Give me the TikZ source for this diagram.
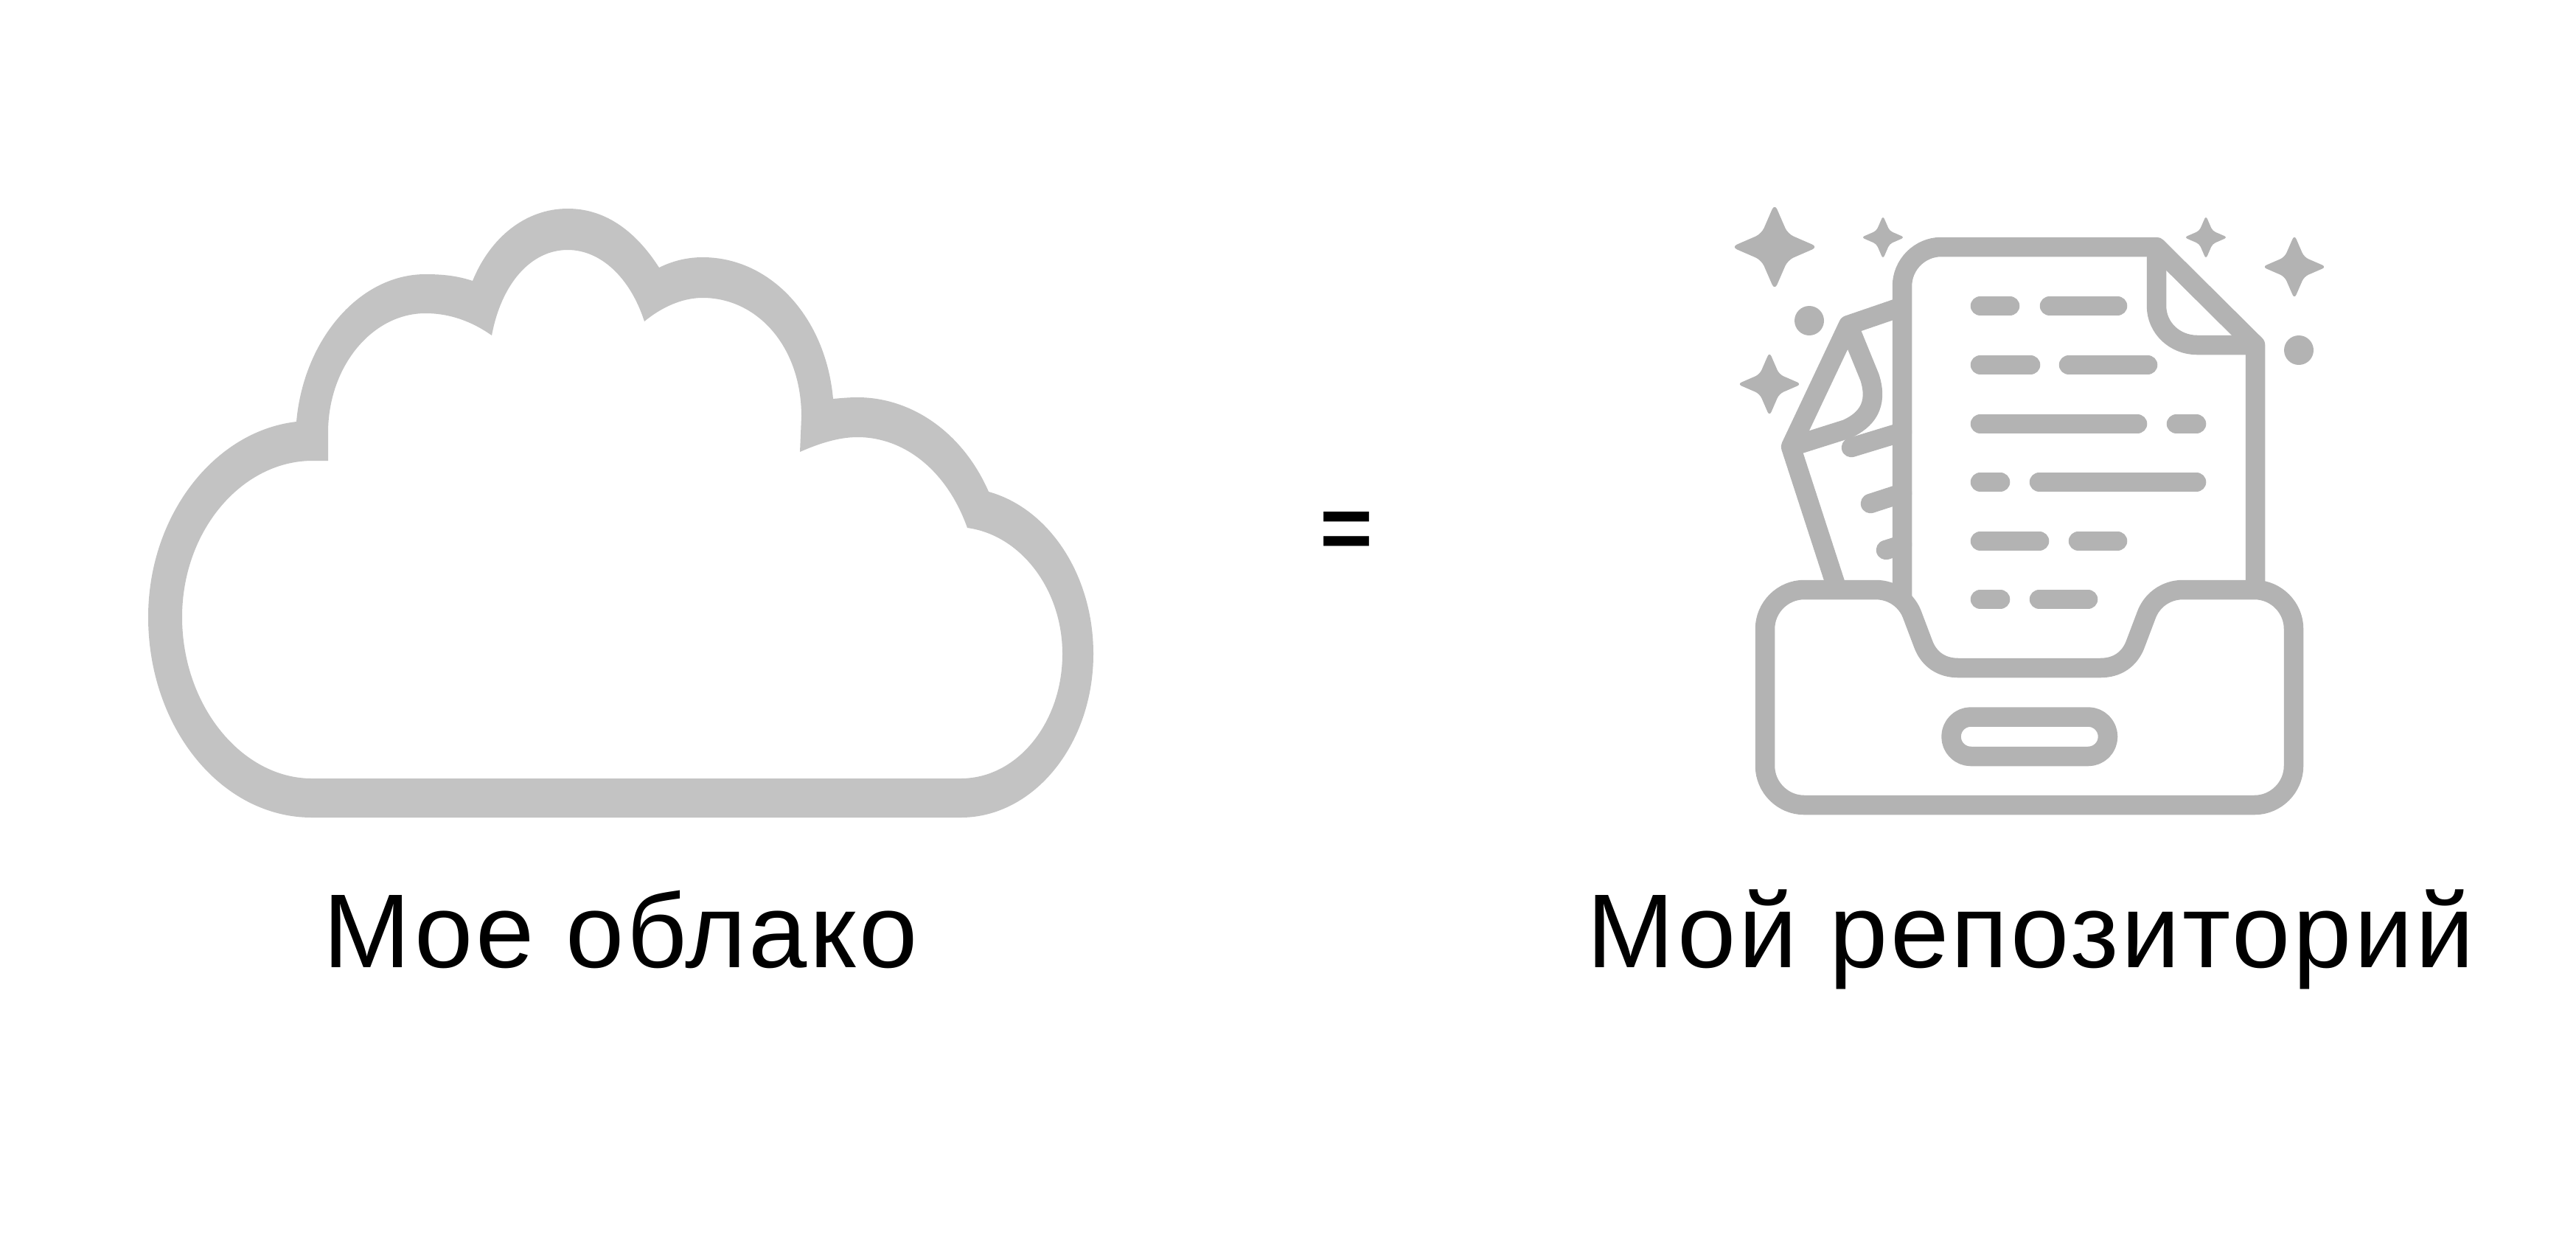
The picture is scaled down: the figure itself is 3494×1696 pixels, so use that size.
\documentclass[tikz,border=0pt]{standalone}
\usepackage{fontspec}
\setmainfont{Liberation Sans}
\newfontfamily\captionfont[LetterSpace=2.5]{Liberation Sans}
\usepackage{xcolor}
\definecolor{cloudgray}{RGB}{195,195,195}
\definecolor{icongray}{RGB}{179,179,179}
\usetikzlibrary{positioning}
\newcommand{\sparkle}[3]{%
  \fill[icongray, shift={(#1,#2)}, rounded corners=#3*0.0016cm]
    (0,1.09*#3) -- (0.33*#3,0.33*#3) -- (1.09*#3,0) -- (0.33*#3,-0.33*#3)
    -- (0,-1.09*#3) -- (-0.33*#3,-0.33*#3) -- (-1.09*#3,0) -- (-0.33*#3,0.33*#3) -- cycle;
}
\begin{document}
\begin{tikzpicture}[
  x=0.01cm, y=-0.01cm,
  caption/.style={anchor=base, font=\captionfont\fontsize{40.5}{48}\selectfont, inner sep=0pt},
  icon/.style={draw=icongray, line width=0.265cm, line join=round},
  bar/.style={icon, line cap=round}
]
  \useasboundingbox (0,0) rectangle (3494,1696);

  % cloud
  \fill[cloudgray, even odd rule]
    (423,1109) -- (1303,1109)
    .. controls (1402,1109) and (1483,1010) .. (1483,887)
    .. controls (1483,780) and (1423,690) .. (1341,667)
    .. controls (1305,585) and (1235,539) .. (1163,539)
    .. controls (1152,539) and (1141,540) .. (1130,541)
    .. controls (1120,430) and (1045,349) .. (953,349)
    .. controls (932,349) and (912,354) .. (894,363)
    .. controls (860,310) and (818,283) .. (770,283)
    .. controls (713,283) and (665,322) .. (641,381)
    .. controls (620,374) and (600,372) .. (577,372)
    .. controls (488,372) and (412,460) .. (402,572)
    .. controls (290,585) and (201,700) .. (201,837)
    .. controls (201,987) and (300,1109) .. (423,1109) -- cycle
    (423,1056) -- (1303,1056)
    .. controls (1380,1056) and (1441,980) .. (1441,887)
    .. controls (1441,800) and (1385,726) .. (1312,716)
    .. controls (1285,640) and (1228,593) .. (1163,593)
    .. controls (1137,593) and (1110,602) .. (1085,613)
    -- (1087,565)
    .. controls (1087,470) and (1027,404) .. (953,404)
    .. controls (925,404) and (897,417) .. (874,436)
    .. controls (855,377) and (815,339) .. (770,339)
    .. controls (720,339) and (680,385) .. (667,455)
    .. controls (640,436) and (610,425) .. (577,425)
    .. controls (505,425) and (445,497) .. (445,587)
    -- (445,625) -- (424,625)
    .. controls (328,625) and (247,720) .. (247,837)
    .. controls (247,957) and (328,1056) .. (423,1056) -- cycle;

  \node[caption] (cloudlabel) at (842,1312) {Мое облако};
  \node[caption] (repolabel) at (2754,1312) {Мой репозиторий};
  \node[anchor=base, font=\bfseries\fontsize{35}{35}\selectfont, inner sep=0pt] (equals) at (1826,758) {=};

  % sheet behind the document
  \draw[icon] (2580,416) -- (2507,441) -- (2429,606) -- (2492,800);
  \draw[icon] (2507,441) -- (2536,512) .. controls (2548,550) and (2531,570) .. (2505,582) -- (2429,606);
  \draw[bar] (2511,607) -- (2580,586);
  \draw[bar] (2537,683) -- (2580,669);
  \draw[bar] (2558,746) -- (2580,739);

  % document
  \draw[icon] (2580,815) -- (2580,388) .. controls (2580,359) and (2604,335) .. (2633,335)
    -- (2925,335) -- (3059,468) -- (3059,800);
  \draw[icon] (2925,335) -- (2925,415) .. controls (2925,445) and (2950,468) .. (2980,468) -- (3059,468);
  \foreach \xa/\xb/\yy in {2686/2726/415, 2780/2872/415,
                           2686/2754/495, 2806/2913/495,
                           2686/2899/575, 2952/2979/575,
                           2686/2713/654, 2766/2979/654,
                           2686/2766/734, 2819/2872/734,
                           2686/2713/813, 2766/2832/813}
    \draw[bar] (\xa,\yy) -- (\xb,\yy);

  % tray
  \draw[icon] (2447,800) .. controls (2418,800) and (2394,824) .. (2394,853) -- (2394,1039)
    .. controls (2394,1068) and (2418,1092) .. (2447,1092) -- (3058,1092)
    .. controls (3087,1092) and (3111,1068) .. (3111,1039) -- (3111,853)
    .. controls (3111,824) and (3087,800) .. (3058,800) -- (2961,800)
    .. controls (2937,800) and (2918,815) .. (2911,835) -- (2897,872)
    .. controls (2889,895) and (2871,906) .. (2849,906) -- (2656,906)
    .. controls (2634,906) and (2616,895) .. (2608,872) -- (2594,835)
    .. controls (2587,815) and (2568,800) .. (2544,800) -- cycle;
  \draw[icon, rounded corners=0.267cm] (2646.5,972.5) rectangle (2859,1026);

  % sparkles
  \sparkle{2407}{335}{54}
  \sparkle{2554}{322}{27}
  \sparkle{2992}{322}{27}
  \sparkle{3112}{362}{40}
  \sparkle{2400}{521}{40}
  \fill[icongray] (2454,435) circle[radius=20];
  \fill[icongray] (3118,475) circle[radius=20];
\end{tikzpicture}
\end{document}
